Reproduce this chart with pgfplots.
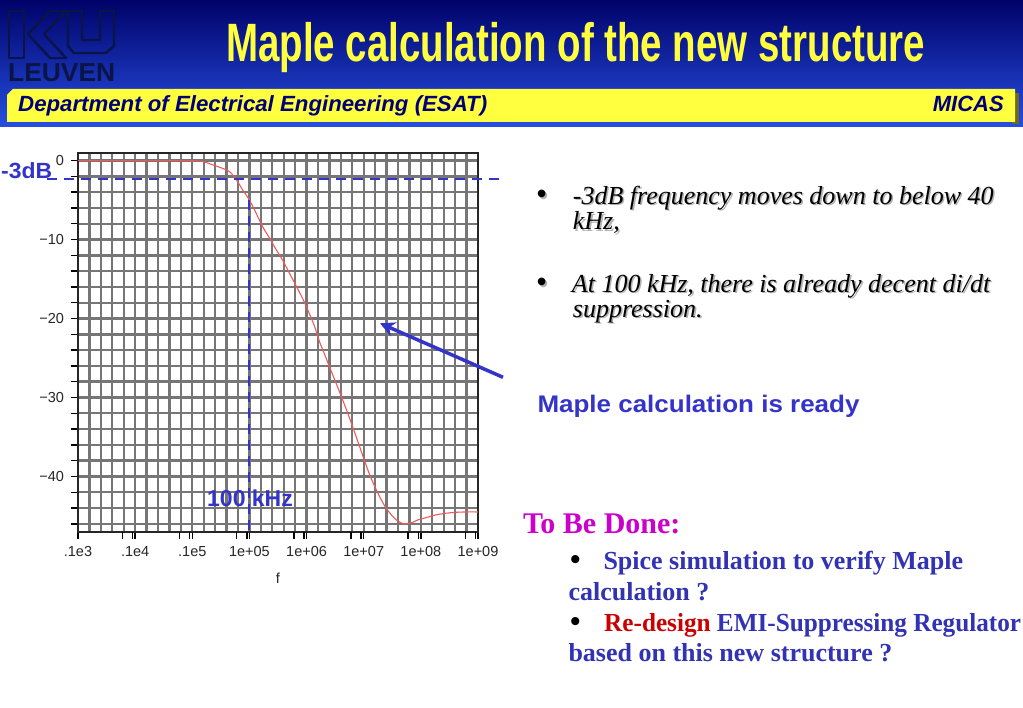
\documentclass[border=0pt]{standalone}
\usepackage{fontspec}
\usepackage{graphicx}
\usepackage{pgfplots}
\pgfplotsset{compat=1.18}
\usetikzlibrary{arrows.meta}
\setmainfont{Liberation Sans}
\newfontfamily\arial{Liberation Sans}
\newfontfamily\tnr{Liberation Serif}
\newcommand\fs[1]{\fontsize{#1}{#1}\selectfont}

\definecolor{navyT}{RGB}{0,0,120}
\definecolor{hdrtop}{RGB}{0,2,105}
\definecolor{hdrbot}{RGB}{38,78,226}
\definecolor{barYellow}{RGB}{255,255,64}
\definecolor{barShadow}{RGB}{110,105,30}
\definecolor{logoNavy}{RGB}{10,20,70}
\definecolor{annBlue}{RGB}{52,52,200}
\definecolor{curveRed}{RGB}{238,90,90}
\definecolor{gridGray}{RGB}{118,118,118}
\definecolor{txtBlue}{RGB}{50,50,180}
\definecolor{magT}{RGB}{204,0,204}
\definecolor{redT}{RGB}{204,0,0}

% text with a light drop shadow, as on the slide
\newcommand\shtext[3]{%
  \node[anchor=base west, inner sep=0pt, text=black!30] at (#1pt+1.6pt,-#2pt-1.6pt) {#3};
  \node[anchor=base west, inner sep=0pt, text=black] at (#1pt,-#2pt) {#3};}

\begin{document}
\begin{tikzpicture}
\useasboundingbox (0pt,0pt) rectangle (1023pt,-708pt);
\clip (0pt,0pt) rectangle (1023pt,-708pt);
\fill[white] (0pt,0pt) rectangle (1023pt,-708pt);

% header
\shade[top color=hdrtop, bottom color=hdrbot] (0pt,0pt) rectangle (1023pt,-127pt);
\fill[barShadow] (1012pt,-93pt) rectangle (1019pt,-124pt);
\fill[barYellow] (7pt,-95pt) -- (13pt,-89pt) -- (1015pt,-89pt) -- (1015pt,-122pt) -- (7pt,-122pt) -- cycle;
\node[anchor=base west, inner sep=0pt, text=navyT, font=\arial\bfseries\itshape\fs{22}]
  at (18pt,-112pt) {\resizebox{469pt}{\height}{Department of Electrical Engineering (ESAT)}};
\node[anchor=base east, inner sep=0pt, text=navyT, font=\arial\bfseries\itshape\fs{22}]
  at (1004pt,-112pt) {MICAS};
\node[anchor=base west, inner sep=0pt, text=barYellow, font=\arial\bfseries\fs{54}]
  at (226pt,-62pt) {\resizebox{699pt}{\height}{Maple calculation of the new structure}};

% logo
\begin{scope}[x=1pt, y=-1pt, draw=logoNavy, line width=2.4pt, line join=round]
  \draw (9,11) rectangle (24,58);
  \draw (28,34) -- (50,11) -- (66,11) -- (44,34) -- (66,58) -- (50,58) -- cycle;
  \draw (68,11) -- (82,11) -- (82,40) -- (100,40) -- (100,11) -- (114,11) -- (114,46)
        -- (106,53) -- (74,53) -- (68,46) -- cycle;
\end{scope}
\node[anchor=base west, inner sep=0pt, text=logoNavy, font=\arial\bfseries\fs{26}]
  at (8pt,-82pt) {\resizebox{107pt}{\height}{LEUVEN}};

% chart
\begin{axis}[
    at={(78pt,-531.7pt)}, anchor=south west,
    scale only axis, width=400pt, height=379pt,
    xmode=log, xmin=1e2, xmax=1e9, ymin=-47, ymax=1,
    clip=false,
    xtick={1e2,1e3,1e4,1e5,1e6,1e7,1e8,1e9},
    xticklabels={.1e3,.1e4,.1e5,1e+05,1e+06,1e+07,1e+08,1e+09},
    minor xtick={158.5,251.2,398.1,631,1585,2512,3981,6310,
                 1.585e4,2.512e4,3.981e4,6.310e4,1.585e5,2.512e5,3.981e5,6.310e5,
                 1.585e6,2.512e6,3.981e6,6.310e6,1.585e7,2.512e7,3.981e7,6.310e7,
                 1.585e8,2.512e8,3.981e8,6.310e8},
    extra x ticks={600,900,6e3,9e3,6e4,9e4,6e5,9e5,6e6,9e6,6e7,9e7,6e8,9e8},
    extra x tick labels={},
    extra x tick style={grid=none},
    ytick={-46,-44,...,0},
    yticklabels={,,,−40,,,,,−30,,,,,−20,,,,,−10,,,,,0},
    grid=both,
    major grid style={gridGray, line width=2.4pt},
    minor grid style={gridGray, line width=2.4pt},
    tick align=outside, tick pos=left,
    major tick length=7.5pt, minor tick length=0pt,
    tick style={black, line width=1.4pt},
    axis line style={black!85, line width=1.8pt},
    tick label style={font=\arial\fs{14.5}, text=black!85},
    xticklabel style={yshift=-4pt},
    yticklabel style={xshift=-3pt},
    xlabel={f},
    xlabel style={font=\arial\fs{14.5}, text=black!85, yshift=6pt},
]
\addplot[curveRed, line width=1.1pt, smooth] coordinates {
  (1e2,0) (1e3,0) (1e4,-0.02) (1.585e4,-0.15) (2.29e4,-0.55) (3.16e4,-0.9)
  (4.47e4,-1.4) (5.89e4,-2.4) (7.59e4,-3.7) (1e5,-5.0) (1.318e5,-6.7)
  (1.698e5,-8.35) (2.239e5,-9.8) (2.951e5,-11.3) (3.802e5,-12.6) (5.012e5,-14.25)
  (6.607e5,-15.9) (8.710e5,-17.6) (1.122e6,-19.4) (1.380e6,-21.0) (1.698e6,-23.0)
  (2.089e6,-24.6) (2.512e6,-26.1) (3.548e6,-28.8) (5.012e6,-31.6) (7.079e6,-34.6)
  (9.772e6,-37.5) (1.259e7,-39.7) (1.660e7,-41.7) (2.042e7,-43.0) (2.512e7,-44.1)
  (3.162e7,-45.0) (3.715e7,-45.5) (4.266e7,-45.8) (5.012e7,-46.0) (6.026e7,-45.95)
  (7.244e7,-45.8) (8.913e7,-45.5) (1.259e8,-45.2) (1.778e8,-44.9) (2.512e8,-44.7)
  (3.981e8,-44.55) (6.310e8,-44.5) (1e9,-44.5)
};
\draw[annBlue, line width=2pt, dash pattern=on 10pt off 7pt] (axis cs:28.6,-2.35) -- (axis cs:2.75e9,-2.35);
\draw[annBlue, line width=2pt, dash pattern=on 10pt off 6pt] (axis cs:1e5,-5.0) -- (axis cs:1e5,-47);
\end{axis}

\node[anchor=base west, inner sep=0pt, text=annBlue, font=\arial\bfseries\fs{22}]
  at (1pt,-179pt) {\resizebox{51pt}{\height}{-3dB}};
\node[anchor=base west, inner sep=0pt, text=annBlue, font=\arial\bfseries\fs{23}]
  at (207pt,-506pt) {100 kHz};
\draw[annBlue, line width=3.5pt, -{Stealth[length=15pt,width=15pt,inset=5pt]}]
  (503pt,-377.3pt) -- (380pt,-323.3pt);

% right-hand notes
\begin{scope}[font=\tnr\itshape\fs{26}]
  \shtext{536}{205}{\normalfont\tnr\fs{32}\textbullet}
  \shtext{572.7}{204.3}{-3dB frequency moves down to below 40}
  \shtext{572.7}{230}{kHz,}
  \shtext{536}{293}{\normalfont\tnr\fs{32}\textbullet}
  \shtext{571.7}{292.3}{At 100 kHz, there is already decent di/dt}
  \shtext{572.7}{317.3}{suppression.}
\end{scope}
\node[anchor=base west, inner sep=0pt, text=annBlue, font=\arial\bfseries\fs{24}]
  at (537.3pt,-412.7pt) {\resizebox{322pt}{\height}{Maple calculation is ready}};

\node[anchor=base west, inner sep=0pt, text=magT, font=\tnr\bfseries\fs{30}]
  at (523pt,-533.3pt) {To Be Done:};
\begin{scope}[every node/.style={anchor=base west, inner sep=0pt, font=\tnr\bfseries\fs{26}}]
  \node[text=black] at (570pt,-569pt) {\fs{30}\textbullet};
  \node[text=txtBlue] at (603.3pt,-569pt) {Spice simulation to verify Maple};
  \node[text=txtBlue] at (568.3pt,-600pt) {calculation ?};
  \node[text=black] at (570pt,-631pt) {\fs{30}\textbullet};
  \node at (604pt,-631pt) {\resizebox{417pt}{\height}{\textcolor{redT}{Re-design}~\textcolor{txtBlue}{EMI-Suppressing Regulator}}};
  \node[text=txtBlue] at (568.3pt,-661pt) {based on this new structure ?};
\end{scope}
\end{tikzpicture}
\end{document}
